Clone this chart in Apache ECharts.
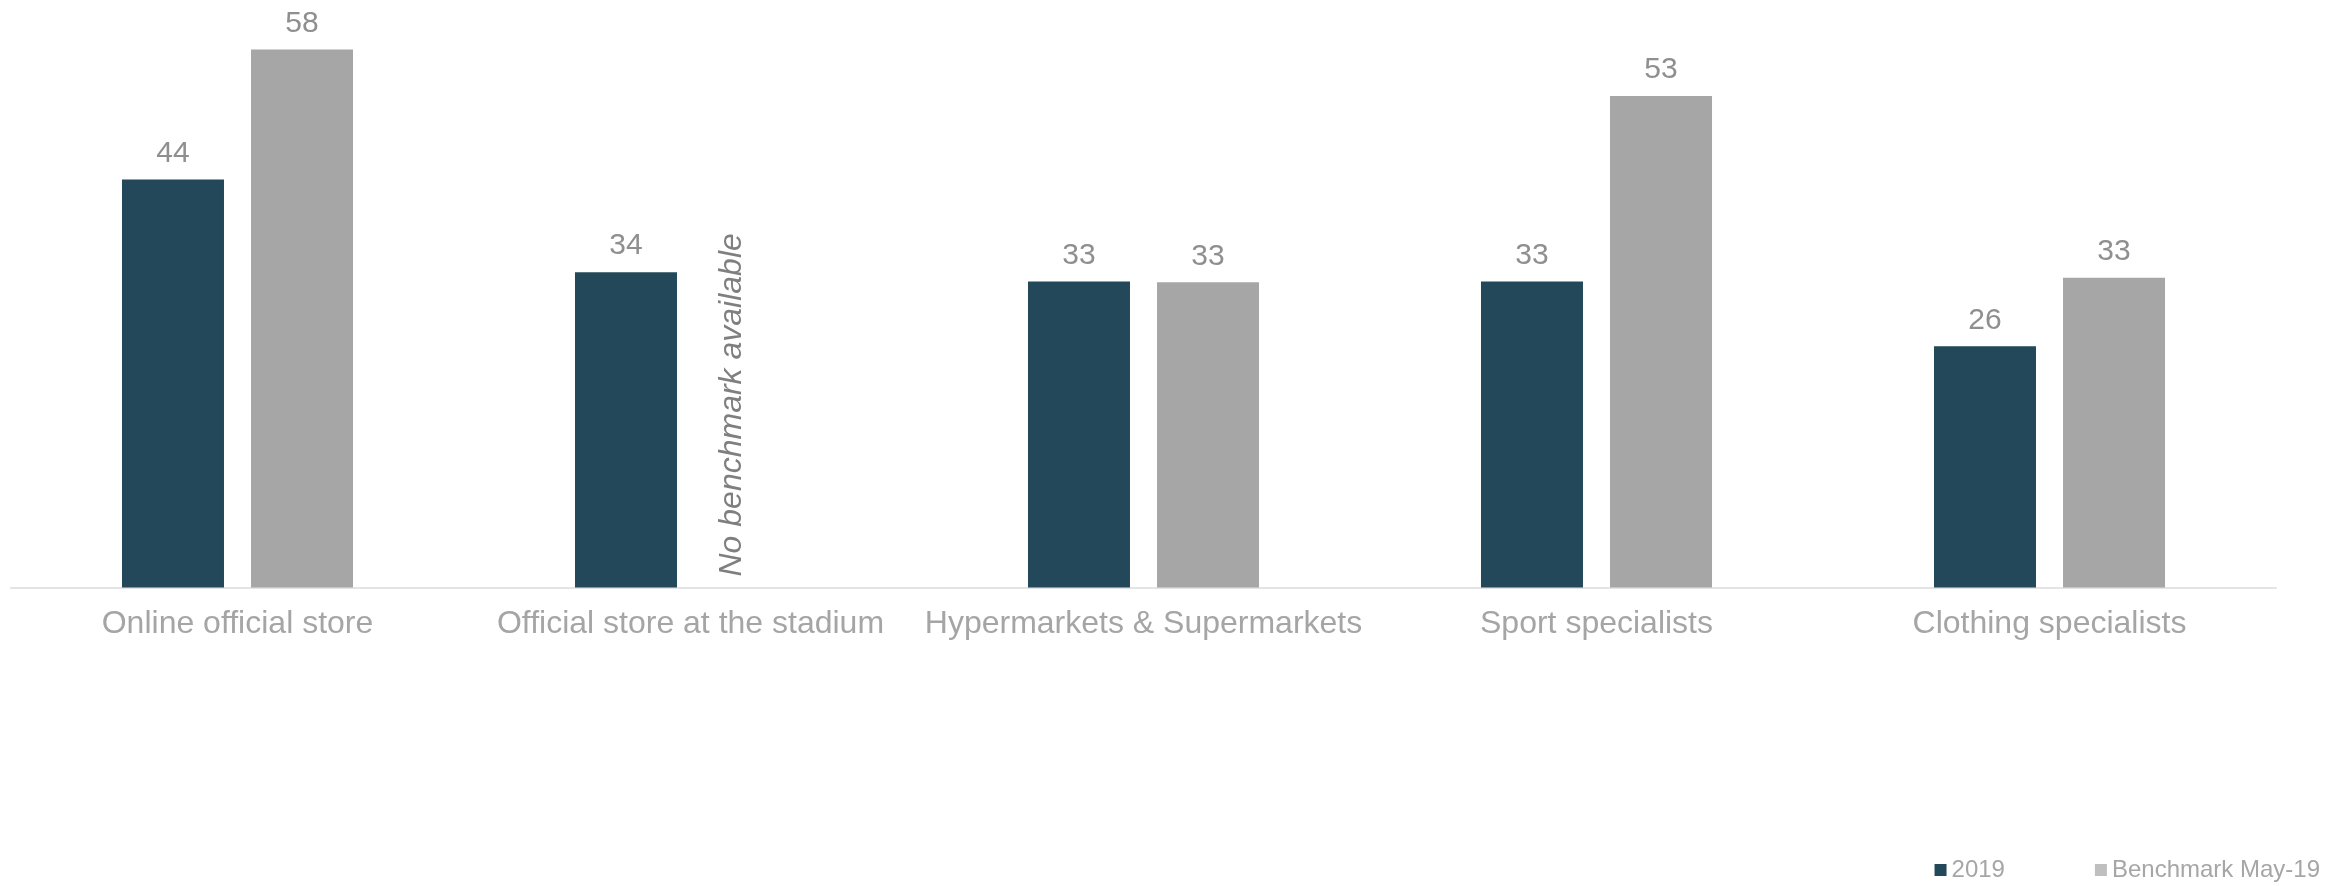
<!DOCTYPE html>
<html><head><meta charset="utf-8">
<script src="https://cdn.jsdelivr.net/npm/echarts@6/dist/echarts.min.js"></script>
<style>html,body{margin:0;padding:0;background:#fff}#c{width:2344px;height:886px}</style>
</head><body><div id="c"></div>
<script>
const categories = ['Online official store','Official store at the stadium','Hypermarkets & Supermarkets','Sport specialists','Clothing specialists'];
const values2019 = [44, 34, 33, 33, 26];
const valuesBenchmark = [58, null, 32.9, 53, 33.4];
const seriesNames = ['2019', 'Benchmark May-19'];
const missingNote = 'No benchmark available';

const FONT = '"Liberation Sans", Arial, sans-serif';
const DARK = '#22485A', GREY = '#A6A6A6';

const benchData = valuesBenchmark.map(v => v === null ? {
  value: 0,
  label: {
    show: true, formatter: missingNote, position: 'top', distance: 11,
    rotate: 90, align: 'left', verticalAlign: 'middle', offset: [0, -23],
    fontStyle: 'italic', fontSize: 32, color: '#7F7F7F', fontFamily: FONT
  }
} : v);

const chart = echarts.init(document.getElementById('c'));
chart.setOption({
  animation: false,
  grid: { left: 11, right: 68, top: 31, bottom: 298.5, containLabel: false },
  legend: {
    right: 20, bottom: 0, padding: 4, itemWidth: 12, itemHeight: 12, itemGap: 90,
    icon: 'rect',
    textStyle: { fontSize: 24, color: '#A6A6A6', fontFamily: FONT },
    data: [
      { name: seriesNames[0], itemStyle: { color: DARK } },
      { name: seriesNames[1], itemStyle: { color: '#BFBFBF' } }
    ]
  },
  xAxis: {
    type: 'category', data: categories,
    axisLine: { lineStyle: { color: '#E4E4E4', width: 2 } },
    axisTick: { show: false },
    axisLabel: { fontSize: 32, color: '#A5A5A5', fontFamily: FONT, margin: 21, interval: 0 }
  },
  yAxis: { type: 'value', min: 0, max: 60, show: false, splitLine: { show: false } },
  series: [
    {
      name: seriesNames[0], type: 'bar', data: values2019, barWidth: 102, barGap: '26.5%',
      itemStyle: { color: DARK },
      label: { show: true, position: 'top', distance: 11, fontSize: 30, color: '#8F8F8F', fontFamily: FONT,
        formatter: p => Math.round(p.value) }
    },
    {
      name: seriesNames[1], type: 'bar', data: benchData, barWidth: 102,
      itemStyle: { color: GREY },
      label: { show: true, position: 'top', distance: 11, fontSize: 30, color: '#8F8F8F', fontFamily: FONT,
        formatter: p => Math.round(p.value) }
    }
  ]
});
</script></body></html>
